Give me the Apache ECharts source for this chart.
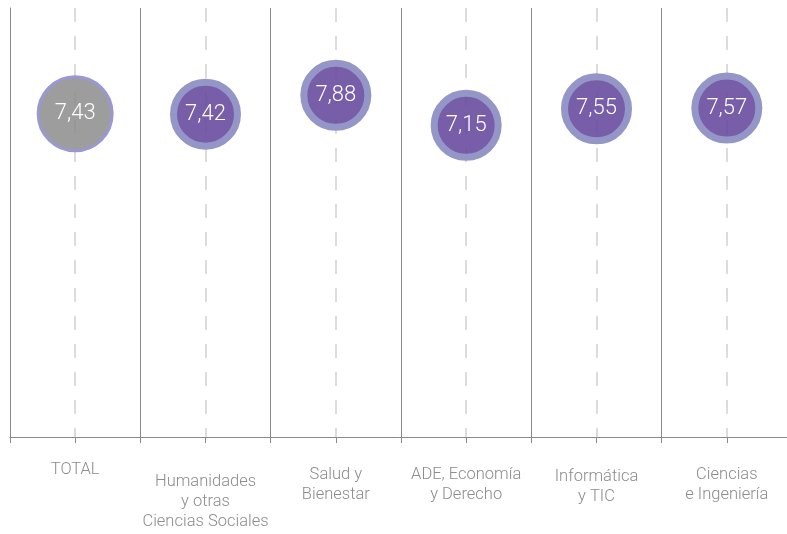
<!DOCTYPE html>
<html>
<head>
<meta charset="utf-8">
<script src="https://cdn.jsdelivr.net/npm/echarts@6/dist/echarts.min.js"></script>
<style>
  html, body { margin: 0; padding: 0; background: #fff; }
  #chart { width: 787px; height: 534px; }
</style>
</head>
<body>
<div id="chart"></div>
<script>
// categorías (eje X)
var categories = [
  'TOTAL',
  'Humanidades\ny otras\nCiencias Sociales',
  'Salud y\nBienestar',
  'ADE, Economía\ny Derecho',
  'Informática\ny TIC',
  'Ciencias\ne Ingeniería'
]
// nota media de cada categoría
var scores = [7.43, 7.42, 7.88, 7.15, 7.55, 7.57]

// desplazamiento vertical de cada etiqueta del eje (solo estilo)
var labelPad = [0, 12, 5, 5, 7, 5]

var purple = 'rgba(100,69,155,0.87)'
var ring = '#9496c8'
var grey = 'rgba(140,140,140,0.85)'

var chart = echarts.init(document.getElementById('chart'))

var points = scores.map(function(v, i) {
  var isTotal = i === 0
  return {
    value: [categories[i], v],
    symbolSize: isTotal ? 74 : 64,
    itemStyle: {
      opacity: 1,
      color: isTotal ? grey : purple,
      borderColor: isTotal ? '#9a98d4' : ring,
      borderWidth: isTotal ? 3 : 7
    }
  }
})

chart.setOption({
  animation: false,
  grid: {
    left: 10,
    width: 782,
    top: 8,
    bottom: 97,
    outerBoundsMode: 'none'
  },
  xAxis: [{
    type: 'category',
    data: categories.map(function(c, i) {
      return { value: c, textStyle: { padding: [labelPad[i], 0, 0, 0] } }
    }),
    boundaryGap: true,
    axisLine: { onZero: false, lineStyle: { color: '#8a8a8a', width: 1 } },
    axisTick: { show: true, length: 6, lineStyle: { color: '#8a8a8a' } },
    splitLine: { show: true, lineStyle: { color: '#8a8a8a', width: 1 } },
    axisLabel: {
      interval: 0,
      margin: 23,
      color: '#8c8c8c',
      fontFamily: 'Roboto',
      fontWeight: 300,
      fontSize: 16.5,
      lineHeight: 20
    }
  }, {
    // ticks y líneas discontinuas en el centro de cada categoría
    type: 'category',
    data: categories,
    position: 'bottom',
    offset: 0,
    boundaryGap: true,
    axisLine: { show: false, onZero: false },
    axisTick: { show: true, alignWithLabel: true, length: 6, lineStyle: { color: '#8a8a8a' } },
    axisLabel: { show: false },
    splitLine: {
      show: true,
      alignWithLabel: true,
      lineStyle: { color: '#dcdcdc', type: [14, 14], dashOffset: 0, width: 2 }
    }
  }],
  yAxis: {
    type: 'value',
    min: -0.42,
    max: 10,
    axisLine: { show: true, lineStyle: { color: '#8a8a8a' } },
    axisTick: { show: false },
    axisLabel: { show: false },
    splitLine: { show: false }
  },
  series: [{
    type: 'scatter',
    data: points,
    label: {
      show: true,
      position: 'inside',
      color: '#fff',
      fontFamily: 'Roboto',
      fontWeight: 300,
      fontSize: 22,
      formatter: function(p) {
        return p.value[1].toFixed(2).replace('.', ',')
      }
    }
  }]
})
</script>
</body>
</html>
